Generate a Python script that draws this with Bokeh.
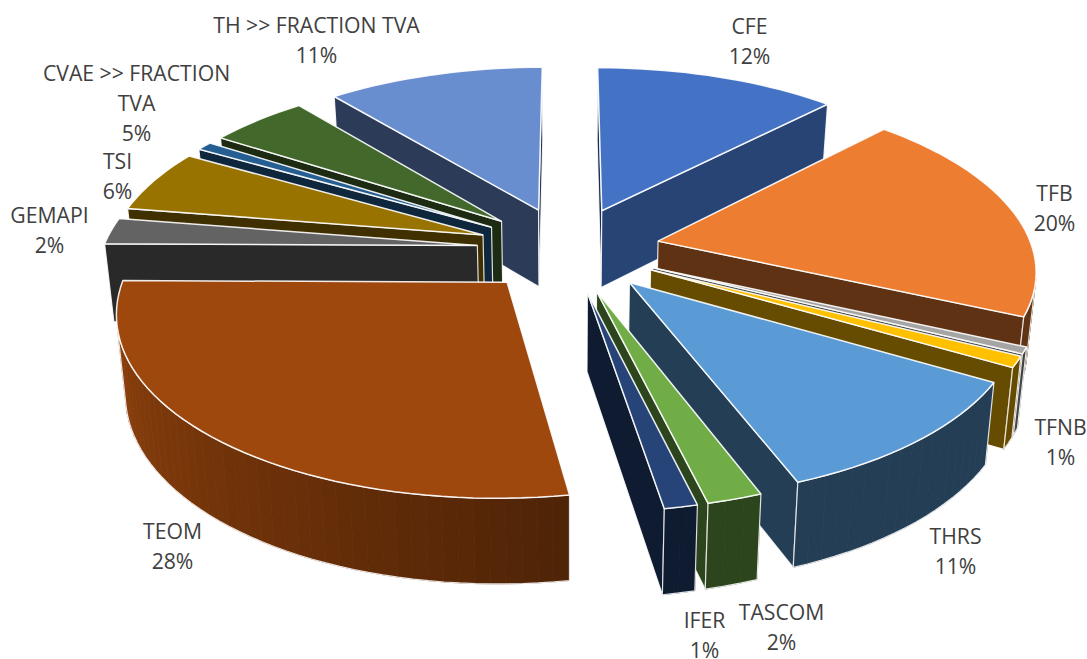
import math
from bokeh.plotting import figure
from bokeh.models import Range1d
from bokeh.core.properties import value
from bokeh.embed import file_html
from bokeh.resources import INLINE

NAMES = ["CFE", "TFB", "(gris)", "TFNB", "THRS", "TASCOM", "IFER", "TEOM", "GEMAPI", "TSI", "(bleu)", "CVAE >> FRACTION TVA", "TH >> FRACTION TVA"]
VALUES = [12.3, 19.7, 0.6, 1, 10.9, 2.0, 1.2, 27.9, 2.4, 5.8, 0.8, 5, 11]
COLORS = ["#4472C4", "#ED7D31", "#A5A5A5", "#FFC000", "#5B9BD5", "#70AD47", "#264478",
          "#9E480E", "#636363", "#997300", "#255E91", "#43682B", "#698ED0"]
LABEL_TEXTS = [["CFE", "12%"], ["TFB", "20%"], ["TFNB", "1%"], ["THRS", "11%"], ["TASCOM", "2%"], ["IFER", "1%"],
               ["TEOM", "28%"], ["GEMAPI", "2%"], ["TSI", "6%"], ["CVAE >> FRACTION", "TVA", "5%"], ["TH >> FRACTION TVA", "11%"]]
LABEL_ANCHORS = [(749, 25), (1054, 192), (1060, 426), (955, 535), (781, 611), (704, 619),
                 (172, 530), (49, 214), (117, 160), (136, 72), (316, 24)]

# layout of the 3-D projection (page pixels)
CX, CY = 568, 248.5
RX, RY = 374.5, 174
KP = 0.145
EXPLODE = 0.245
DEPTH = 78
BOTTOM_SCALE = 0.98
LINE_STEP = 30
FONT_PX = 21.2


def top(X, Y):
    w = 1 / (1 + KP * Y)
    return CX + RX * X * w, CY - RY * Y * w


def bottom(X, Y):
    w = 1 / (1 + KP * Y)
    sx, sy = top(X, Y)
    return CX + (sx - CX) * BOTTOM_SCALE, sy + DEPTH * w ** 0.5


def shade(hex_color, f):
    r, g, b = (int(hex_color[i:i + 2], 16) for i in (1, 3, 5))
    return "#%02x%02x%02x" % (int(r * f), int(g * f), int(b * f))


def area(pts):
    return sum(pts[i][0] * pts[(i + 1) % len(pts)][1] - pts[(i + 1) % len(pts)][0] * pts[i][1] for i in range(len(pts))) / 2


total = sum(VALUES)
slices = []
acc = 0
for v, c in zip(VALUES, COLORS):
    a0 = acc / total * 2 * math.pi
    acc += v
    a1 = acc / total * 2 * math.pi
    slices.append((a0, a1, c))

faces = []


def add(pts, fill, line, width, alpha=1.0):
    faces.append(([q[0] for q in pts], [q[1] for q in pts], fill, line, width, alpha))


order = sorted(slices, key=lambda s: -math.cos((s[0] + s[1]) / 2))
for a0, a1, c in order:
    am = (a0 + a1) / 2
    ox, oy = EXPLODE * math.sin(am), EXPLODE * math.cos(am)
    n = max(2, int(math.degrees(a1 - a0) / 2))
    angs = [a0 + (a1 - a0) * i / n for i in range(n + 1)]
    rim = [(ox + math.sin(t), oy + math.cos(t)) for t in angs]
    tip_t, tip_b = top(ox, oy), bottom(ox, oy)

    for idx, t, sign in ((0, a0, -1), (-1, a1, 1)):
        quad = [tip_t, top(*rim[idx]), bottom(*rim[idx]), tip_b]
        if area(quad) * sign > 0:
            f = 0.42 if sign < 0 else (0.6 if t < math.pi / 2 else 0.4)
            add(quad, shade(c, f), "#ffffff", 1.2, 0.85)

    visible = []
    for i in range(n):
        q = [top(*rim[i]), top(*rim[i + 1]), bottom(*rim[i + 1]), bottom(*rim[i])]
        if area(q) < 0:
            deg = math.degrees((angs[i] + angs[i + 1]) / 2)
            f = 0.4 if deg < 171 else min(0.95, 0.5 + (deg - 171) / 100 * 0.45)
            col = shade(c, f)
            add(q, col, col, 0.8, 1.0)
            visible.append(i)
    if visible:
        i0, i1 = visible[0], visible[-1] + 1
        up = [top(*rim[i]) for i in range(i0, i1 + 1)]
        dn = [bottom(*rim[i]) for i in range(i1, i0 - 1, -1)]
        add(up + dn, None, "#ffffff", 1.2, 0.85)

    add([tip_t] + [top(*q) for q in rim], c, "#ffffff", 1.5, 0.9)

W, H = 1087, 659
p = figure(width=W, height=H, x_range=Range1d(0, W), y_range=Range1d(H, 0),
           output_backend="svg", toolbar_location=None, min_border=0, outline_line_color=None)
p.axis.visible = False
p.grid.visible = False
p.background_fill_color = "#ffffff"

for x, y, f, l, w, a in faces:
    p.patch(x, y, fill_color=f if f else None, fill_alpha=1.0 if f else 0.0, line_color=l, line_width=w, line_alpha=a)

for lab, (ax, ay) in zip(LABEL_TEXTS, LABEL_ANCHORS):
    for j, t in enumerate(lab):
        p.text([ax], [ay + j * LINE_STEP], text=[t], text_align="center", text_baseline="middle",
               text_font=value("Open Sans"), text_font_size=f"{FONT_PX}px", text_color="#404040")

open("out.html", "w").write(file_html(p, INLINE))
